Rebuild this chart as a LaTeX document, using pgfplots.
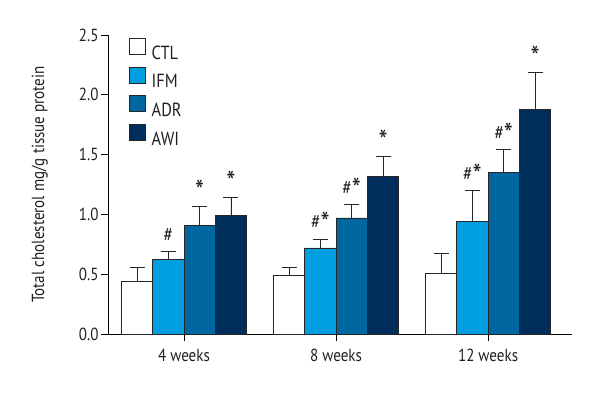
\documentclass[border=0pt]{standalone}
\usepackage{pgfplots}
\pgfplotsset{compat=1.18}
\usepackage{fontspec}
\setmainfont{PT Sans}[FakeStretch=0.86]
\definecolor{ifm}{RGB}{0,158,222}
\definecolor{adr}{RGB}{0,103,160}
\definecolor{awi}{RGB}{0,46,92}
\definecolor{txt}{RGB}{35,31,32}
\newcommand{\bigfont}{\fontsize{17.5bp}{20bp}\selectfont}
\newcommand{\legfont}{\fontsize{19bp}{22bp}\selectfont}
\newcommand{\sig}{\raisebox{-5bp}{\fontsize{30bp}{30bp}\selectfont *}}
\newcommand{\hs}{{\fontsize{20bp}{20bp}\selectfont\#}}
\pgfplotsset{sqlegend/.style={legend image code/.code={\draw[##1, draw=black!85, line width=0.7bp] (0bp,-1.5bp) rectangle (16bp,14.5bp);}}}
\begin{document}
\begin{tikzpicture}[font=\bigfont]
\path[use as bounding box] (-108bp,-66bp) rectangle (492bp,334bp);
\begin{axis}[
 at={(0,0)}, anchor=south west,
 scale only axis, width=463.7bp, height=299bp,
 xmin=-0.5, xmax=2.55, ymin=0, ymax=2.5,
 clip=false,
 axis x line=bottom, axis y line=left,
 axis line style={-, line width=0.8bp, black},
 ybar=0pt, bar width=0.206,
 xtick={0,1,2}, xticklabels={4 weeks, 8 weeks, 12 weeks},
 ytick={0,0.5,1,1.5,2,2.5},
 tick align=outside, major tick length=7bp,
 tick style={black, line width=0.8bp},
 tick label style={font=\bigfont},
 label style={font=\bigfont},
 xticklabel style={yshift=-5bp, text=txt},
 yticklabel style={text=txt, xshift=1bp, /pgf/number format/.cd, fixed, fixed zerofill, precision=1, assume math mode=true},
 ylabel={Total cholesterol mg/g tissue protein},
 ylabel style={at={(axis description cs:-0.147,0.5)}, anchor=center, text=txt},
 legend style={at={(axis description cs:0.0438,0.991)}, anchor=north west, draw=none, fill=none, row sep=5.8bp, column sep=0bp, inner sep=0pt, font=\legfont, nodes={inner sep=0pt, text=txt, text height=14.5bp, text depth=1.5bp}},
 legend cell align=left,
 error bars/y dir=plus, error bars/y explicit,
 error bars/error bar style={line width=0.8bp, black!85},
 error bars/error mark options={rotate=90, mark size=7.5bp, line width=0.8bp, black!85},
]
\addplot[fill=white, draw=black!85, line width=0.7bp, sqlegend] table[x=x, y=y, y error=e] {
x y e
0 0.44 0.12
1 0.49 0.07
2 0.51 0.16
};
\addplot[fill=ifm, draw=black!85, line width=0.7bp, sqlegend] table[x=x, y=y, y error=e] {
x y e
0 0.62 0.07
1 0.72 0.075
2 0.94 0.26
};
\addplot[fill=adr, draw=black!85, line width=0.7bp, sqlegend] table[x=x, y=y, y error=e] {
x y e
0 0.91 0.16
1 0.97 0.11
2 1.35 0.19
};
\addplot[fill=awi, draw=black!85, line width=0.7bp, sqlegend] table[x=x, y=y, y error=e] {
x y e
0 0.99 0.155
1 1.32 0.165
2 1.88 0.31
};
\legend{\hspace{6.5bp}CTL,\hspace{6.5bp}IFM,\hspace{6.5bp}ADR,\hspace{6.5bp}AWI}
\node[anchor=base, yshift=10bp, text=txt, font=\bigfont] at (axis cs:-0.103,0.69) {\hs};
\node[anchor=base, yshift=10bp, text=txt, font=\bigfont] at (axis cs:0.103,1.07) {\sig};
\node[anchor=base, yshift=10bp, text=txt, font=\bigfont] at (axis cs:0.309,1.145) {\sig};
\node[anchor=base, yshift=10bp, text=txt, font=\bigfont] at (axis cs:0.897,0.795) {\hs\sig};
\node[anchor=base, yshift=10bp, text=txt, font=\bigfont] at (axis cs:1.103,1.08) {\hs\sig};
\node[anchor=base, yshift=10bp, text=txt, font=\bigfont] at (axis cs:1.309,1.485) {\sig};
\node[anchor=base, yshift=10bp, text=txt, font=\bigfont] at (axis cs:1.897,1.20) {\hs\sig};
\node[anchor=base, yshift=10bp, text=txt, font=\bigfont] at (axis cs:2.103,1.54) {\hs\sig};
\node[anchor=base, yshift=10bp, text=txt, font=\bigfont] at (axis cs:2.309,2.19) {\sig};
\end{axis}
\end{tikzpicture}
\end{document}
